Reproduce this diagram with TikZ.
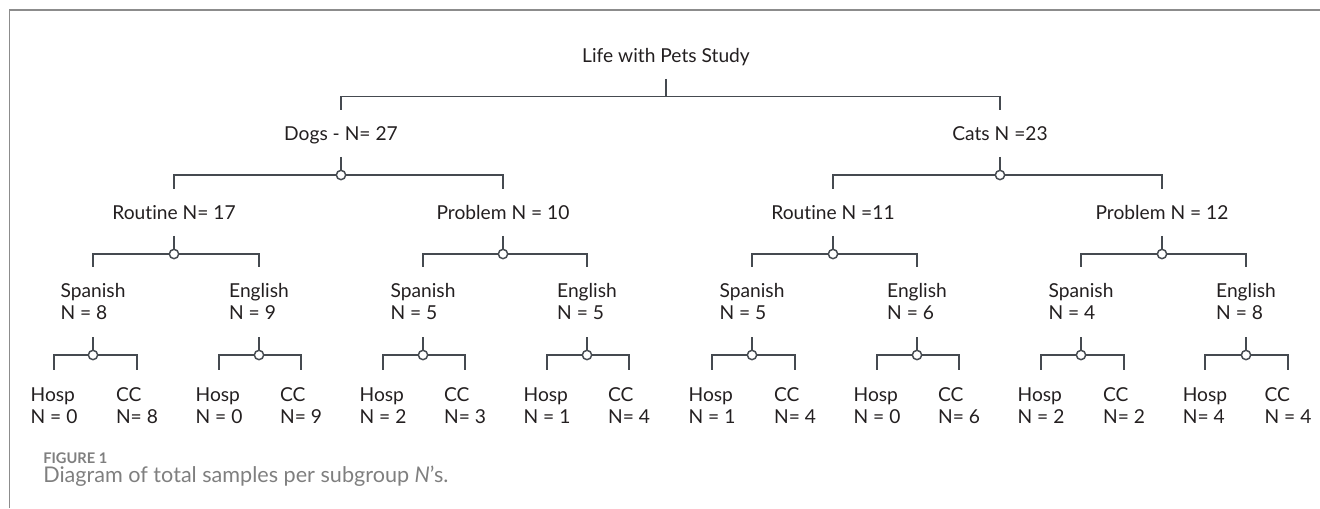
\documentclass[tikz,border=0pt]{standalone}
\usepackage{fontspec}
\setmainfont[RawFeature=-liga]{Lato}
\definecolor{txt}{HTML}{231F20}
\definecolor{ln}{HTML}{454A50}
\definecolor{capgrey}{HTML}{7F7F7F}
\definecolor{framegrey}{HTML}{8C8C8C}
\newcommand\twoline[2]{\begin{tabular}[t]{@{}l@{}}#1\\#2\end{tabular}}
\begin{document}
\begin{tikzpicture}[x=0.75pt,y=-0.75pt,
  lbl/.style={inner sep=0pt, anchor=base, text=txt, font=\fontsize{14.4}{16.5}\selectfont, text height=22.5pt, text depth=12.4pt},
  twol/.style={lbl, text depth=30pt},
  leaf/.style={lbl, text height=23.25pt},
  conn/.style={draw=ln, line width=1.3pt},
  jdot/.style={circle, draw=ln, fill=white, line width=1.1pt, inner sep=0pt, minimum size=7pt},
  framel/.style={draw=framegrey, line width=1.3pt},
  capt/.style={inner sep=0pt, anchor=base west, text=capgrey}
]
\useasboundingbox (0,0) rectangle (1320,508);
% frame
\draw[framel] (9.5,508) -- (9.5,10) -- (1320,10);

% level 0
\node[lbl] (life) at (666,62) {Life with Pets Study};
% level 1
\node[lbl] (dogs) at (341,140) {Dogs - N= 27};
\node[lbl] (cats) at (1000,140) {Cats N =23};
% level 2
\node[lbl] (dr) at (174,219) {Routine N= 17};
\node[lbl] (dp) at (503,219) {Problem N = 10};
\node[lbl] (cr) at (833,219) {Routine N =11};
\node[lbl] (cp) at (1162,219) {Problem N = 12};
% level 3
\node[twol] (drs) at (93,297) {\twoline{Spanish}{N = 8}};
\node[twol] (dre) at (259,297) {\twoline{English}{N = 9}};
\node[twol] (dps) at (423,297) {\twoline{Spanish}{N = 5}};
\node[twol] (dpe) at (587,297) {\twoline{English}{N = 5}};
\node[twol] (crs) at (752,297) {\twoline{Spanish}{N = 5}};
\node[twol] (cre) at (917,297) {\twoline{English}{N = 6}};
\node[twol] (cps) at (1081,297) {\twoline{Spanish}{N = 4}};
\node[twol] (cpe) at (1246,297) {\twoline{English}{N = 8}};
% level 4
\node[leaf] (drsh) at (54,401) {\twoline{Hosp}{N = 0}};
\node[leaf] (drsc) at (137,401) {\twoline{CC}{N= 8}};
\node[leaf] (dreh) at (219,401) {\twoline{Hosp}{N = 0}};
\node[leaf] (drec) at (301,401) {\twoline{CC}{N= 9}};
\node[leaf] (dpsh) at (383,401) {\twoline{Hosp}{N = 2}};
\node[leaf] (dpsc) at (465,401) {\twoline{CC}{N= 3}};
\node[leaf] (dpeh) at (547,401) {\twoline{Hosp}{N = 1}};
\node[leaf] (dpec) at (629,401) {\twoline{CC}{N= 4}};
\node[leaf] (crsh) at (712,401) {\twoline{Hosp}{N = 1}};
\node[leaf] (crsc) at (795,401) {\twoline{CC}{N= 4}};
\node[leaf] (creh) at (877,401) {\twoline{Hosp}{N = 0}};
\node[leaf] (crec) at (959,401) {\twoline{CC}{N= 6}};
\node[leaf] (cpsh) at (1041,401) {\twoline{Hosp}{N = 2}};
\node[leaf] (cpsc) at (1124,401) {\twoline{CC}{N= 2}};
\node[leaf] (cpeh) at (1205,401) {\twoline{Hosp}{N= 4}};
\node[leaf] (cpec) at (1288,401) {\twoline{CC}{N = 4}};

% junctions
\coordinate (j0) at (666,96.5);
\coordinate (jd) at (341,175);
\coordinate (jc) at (1000,175);
\coordinate (jdr) at (174,254);
\coordinate (jdp) at (503,254);
\coordinate (jcr) at (833,254);
\coordinate (jcp) at (1162,254);
\coordinate (jdrs) at (93,355);
\coordinate (jdre) at (259,355);
\coordinate (jdps) at (423,355);
\coordinate (jdpe) at (587,355);
\coordinate (jcrs) at (752,355);
\coordinate (jcre) at (917,355);
\coordinate (jcps) at (1081,355);
\coordinate (jcpe) at (1246,355);

% connectors
\foreach \p/\j/\a/\b in {life/j0/dogs/cats, dogs/jd/dr/dp, cats/jc/cr/cp,
  dr/jdr/drs/dre, dp/jdp/dps/dpe, cr/jcr/crs/cre, cp/jcp/cps/cpe,
  drs/jdrs/drsh/drsc, dre/jdre/dreh/drec, dps/jdps/dpsh/dpsc, dpe/jdpe/dpeh/dpec,
  crs/jcrs/crsh/crsc, cre/jcre/creh/crec, cps/jcps/cpsh/cpsc, cpe/jcpe/cpeh/cpec}{
  \draw[conn] (\p.south) -- (\j);
  \draw[conn] (\a.north) |- (\j) -| (\b.north);
}
% junction dots
\foreach \j in {jd,jc,jdr,jdp,jcr,jcp,jdrs,jdre,jdps,jdpe,jcrs,jcre,jcps,jcpe}{
  \node[jdot] (d\j) at (\j) {};
}

% caption
\node[capt, font=\fontsize{11}{12}\selectfont\bfseries] (fig) at (43,463) {FIGURE 1};
\node[capt, font=\fontsize{16.2}{18}\selectfont] (cap) at (43,482.5) {Diagram of total samples per subgroup \textit{N}’s.};
\end{tikzpicture}
\end{document}
